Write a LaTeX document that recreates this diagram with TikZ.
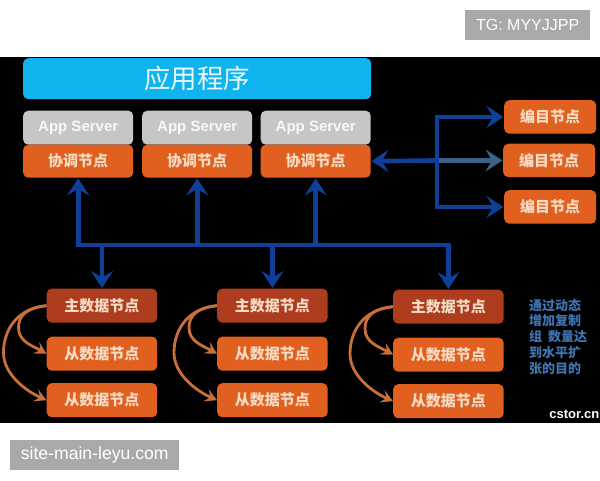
\documentclass[tikz,border=0pt]{standalone}
\usepackage{fontspec}
\setmainfont{Liberation Sans}
\newfontfamily\cjk{Noto Sans CJK SC}
\usetikzlibrary{arrows.meta,positioning}
\definecolor{busblue}{HTML}{0F3F96}
\definecolor{midgrey}{HTML}{3D6288}
\definecolor{nodeorange}{HTML}{E2601F}
\definecolor{masterred}{HTML}{AE3D1F}
\definecolor{arcorange}{HTML}{C9703A}
\definecolor{appcyan}{HTML}{0FB4EE}
\definecolor{srvgrey}{HTML}{C6C6C6}
\definecolor{markgrey}{HTML}{A9A9A9}
\definecolor{notelblue}{HTML}{3F74B0}
\definecolor{nodetext}{HTML}{F6DCC4}
\tikzset{
  x=1pt,y=-1pt,
  boxbase/.style={rounded corners=5pt,inner sep=0pt,anchor=north west},
  appbox/.style={boxbase,fill=appcyan,minimum width=348pt,minimum height=41pt,text=white!90!appcyan,font=\cjk\fontsize{26.5}{28}\selectfont},
  srvbox/.style={boxbase,fill=srvgrey,minimum width=110pt,minimum height=34pt,text=white!88!srvgrey,font=\bfseries\fontsize{15}{16}\selectfont},
  orgbox/.style={boxbase,fill=nodeorange,minimum width=110pt,minimum height=33pt,text=nodetext,font=\cjk\bfseries\fontsize{15}{16}\selectfont},
  editbox/.style={orgbox,minimum width=92pt,minimum height=33.5pt},
  datbox/.style={orgbox,minimum width=110.5pt,minimum height=34pt},
  mstbox/.style={datbox,fill=masterred},
  bus/.style={draw=busblue,line width=4.6pt,line join=miter},
  busarrow/.style={bus,-{Stealth[length=17pt,width=22pt,inset=6.5pt]},shorten >=0.5pt},
  arcarrow/.style={draw=arcorange,line width=2.8pt,-{Stealth[length=12pt,width=13pt,inset=5pt]}},
  markbox/.style={fill=markgrey,text=white,inner sep=0pt,anchor=north west,font=\fontsize{16}{18}\selectfont},
}
\begin{document}
\begin{tikzpicture}
\useasboundingbox (0,0) rectangle (600,480);
\fill[black] (0,57) rectangle (600,423);
% top
\node[appbox] (app) at (23,58) {应用程序};
\foreach \n/\x in {1/23,2/142,3/260.5}{
  \node[srvbox] (srv\n) at (\x,110.5) {\raisebox{-1.5pt}{App Server}};
  \node[orgbox] (crd\n) at (\x,144.5) {协调节点};
}
% edit nodes
\node[editbox] (ed1) at (504,100) {编目节点};
\node[editbox] (ed2) at (503,143.5) {编目节点};
\node[editbox] (ed3) at (504,190) {编目节点};
% data nodes
\node[mstbox] (m1) at (46.5,288.5) {主数据节点};
\node[datbox] (sa1) at (46.5,336.5) {从数据节点};
\node[datbox] (sb1) at (46.5,383) {从数据节点};
\node[mstbox] (m2) at (217,288.5) {主数据节点};
\node[datbox] (sa2) at (217,336.5) {从数据节点};
\node[datbox] (sb2) at (217,383) {从数据节点};
\node[mstbox] (m3) at (393,289.5) {主数据节点};
\node[datbox] (sa3) at (393,337.5) {从数据节点};
\node[datbox] (sb3) at (393,384) {从数据节点};
% bus coordinates
\coordinate (busL) at (crd1.south |- 0,245);
\coordinate (busR) at (m3.north |- 0,245);
\coordinate (up2) at (crd2.south |- 0,245);
\coordinate (up3) at (crd3.south |- 0,245);
\coordinate (dn1) at (m1.north |- 0,245);
\coordinate (dn2) at (m2.north |- 0,245);
\coordinate (trunkT) at (437,0 |- ed1.west);
\coordinate (trunkM) at (437,0 |- ed2.west);
\coordinate (trunkB) at (437,0 |- ed3.west);
\draw[busarrow] (busL) -- (crd1.south);
\draw[busarrow] (up2) -- (crd2.south);
\draw[busarrow] (up3) -- (crd3.south);
\draw[bus] ([xshift=-2.3pt]busL) -- ([xshift=2.3pt]busR);
\draw[busarrow] (dn1) -- (m1.north);
\draw[busarrow] (dn2) -- (m2.north);
\draw[busarrow] (busR) -- (m3.north);
% edit connectors
\draw[busarrow] (trunkM) -- (crd3.east);
\draw[busarrow,draw=midgrey] (trunkM) -- (ed2.west);
\draw[bus] ([yshift=2.3pt]trunkT) -- ([yshift=-2.3pt]trunkB);
\draw[busarrow] (trunkT) -- (ed1.west);
\draw[busarrow] (trunkB) -- (ed3.west);
% replication arcs
\foreach \n in {1,2,3}{
  \draw[arcarrow] (m\n.west) .. controls +(-20,2) and +(0,-12) .. ([xshift=-28pt,yshift=-22pt]m\n.west)
     .. controls +(0,14) and +(-14,-8) .. (sa\n.west);
  \draw[arcarrow] (m\n.west) .. controls +(-27,2) and +(0,-25) .. ([xshift=-43pt,yshift=-47pt]m\n.west)
     .. controls +(0,22) and +(-20,-9) .. (sb\n.west);
}
% note
\node[anchor=north west,inner sep=0pt,align=left,text=notelblue,font=\cjk\bfseries\fontsize{13}{15.8}\selectfont] (note) at (529,298.5)
  {通过动态\\增加复制\\组\hspace{6pt}数量达\\到水平扩\\张的目的};
\node[anchor=east,inner sep=0pt,text=white,font=\bfseries\fontsize{13}{14}\selectfont] (site) at (599.5,414.5) {cstor.cn};
% watermarks
\node[markbox,minimum width=125pt,minimum height=30pt] (tg) at (465,10) {TG: MYYJJPP};
\node[markbox,minimum width=169pt,minimum height=30pt,font=\fontsize{17.6}{19}\selectfont] (wm) at (10,440) {site-main-leyu.com};
\end{tikzpicture}
\end{document}
